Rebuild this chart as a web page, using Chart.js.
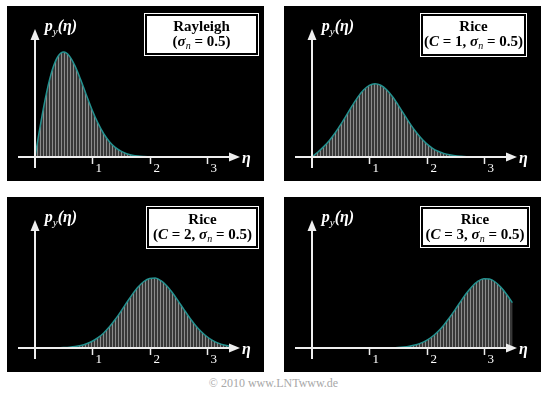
<!DOCTYPE html>
<html>
<head>
<meta charset="utf-8">
<script src="https://cdn.jsdelivr.net/npm/chart.js@4.4.1/dist/chart.umd.min.js"></script>
<style>
  html, body { margin: 0; padding: 0; background: #fff; }
  body { width: 547px; height: 396px; position: relative; overflow: hidden; }
  canvas { position: absolute; }
  #copy { position: absolute; left: 0; top: 376px; width: 547px; text-align: center;
          font: 12px "Liberation Serif", serif; color: #a8a8a8; }
</style>
</head>
<body>
<canvas id="c0" width="257" height="175" style="left:7px;top:6px"></canvas>
<canvas id="c1" width="257" height="175" style="left:284px;top:6px"></canvas>
<canvas id="c2" width="257" height="175" style="left:7px;top:197px"></canvas>
<canvas id="c3" width="257" height="175" style="left:284px;top:197px"></canvas>
<div id="copy">© 2010 www.LNTwww.de</div>

<script>
// η grid (0 ... 3.6, step 0.1)
const eta = [0.0, 0.1, 0.2, 0.3, 0.4, 0.5, 0.6, 0.7, 0.8, 0.9,
             1.0, 1.1, 1.2, 1.3, 1.4, 1.5, 1.6, 1.7, 1.8, 1.9,
             2.0, 2.1, 2.2, 2.3, 2.4, 2.5, 2.6, 2.7, 2.8, 2.9,
             3.0, 3.1, 3.2, 3.3, 3.4, 3.5, 3.6];

// p_y(η)
const rayleigh = [0, 0.392, 0.738, 1.002, 1.162, 1.213, 1.168, 1.051, 0.890, 0.712,
                  0.541, 0.391, 0.269, 0.177, 0.111, 0.067, 0.038, 0.021, 0.011, 0.006, 0.003];
const riceC1 = [0, 0.055, 0.117, 0.189, 0.275, 0.374, 0.482, 0.591, 0.692, 0.774,
                0.828, 0.847, 0.830, 0.780, 0.702, 0.606, 0.502, 0.398, 0.303, 0.222,
                0.155, 0.104, 0.067, 0.042, 0.025, 0.014, 0.008, 0.004, 0.002];
const riceC2 = [0, 0.0002, 0.0004, 0.001, 0.002, 0.005, 0.009, 0.016, 0.029, 0.049,
                0.078, 0.119, 0.174, 0.245, 0.329, 0.424, 0.524, 0.620, 0.705, 0.769,
                0.804, 0.808, 0.778, 0.720, 0.639, 0.545, 0.446, 0.350, 0.264, 0.191,
                0.133, 0.089, 0.057, 0.035, 0.021, 0.012];
const riceC3 = [0, 0, 0, 0, 0, 0, 0, 0, 0, 0,
                0.0002, 0.0004, 0.001, 0.002, 0.003, 0.006, 0.012, 0.021, 0.035, 0.057,
                0.089, 0.133, 0.191, 0.264, 0.349, 0.443, 0.542, 0.635, 0.714, 0.772,
                0.800, 0.797, 0.763, 0.701, 0.619, 0.524];

const xTicks = [1, 2, 3];

const titles = ["Rayleigh", "Rice", "Rice", "Rice"];
const cValues = [null, "1", "2", "3"];
const series = [rayleigh, riceC1, riceC2, riceC3];

// box rectangles per panel (canvas-relative): x, y, w, h
const boxes = [[137, 7, 115, 43], [136, 7, 107, 44], [139, 9, 113, 43], [136, 9, 110, 42]];

const serif = '"Liberation Serif", "Times New Roman", serif';

function stripePattern() {
    const c = document.createElement("canvas");
    c.width = 3; c.height = 4;
    const g = c.getContext("2d");
    g.fillStyle = "#383838"; g.fillRect(0, 0, 3, 4);
    g.fillStyle = "#8c8c8c"; g.fillRect(0, 0, 1, 4);
    return g.createPattern(c, "repeat");
}

function drawRuns(ctx, runs, cx, base) {
    let total = 0;
    runs.forEach(r => { ctx.font = r[1]; total += ctx.measureText(r[0]).width; });
    let xx = cx - total / 2;
    ctx.textAlign = "left";
    runs.forEach(r => {
        ctx.font = r[1];
        ctx.fillText(r[0], xx, base + (r[2] || 0));
        xx += ctx.measureText(r[0]).width;
    });
}

const panelPlugin = {
    id: "panel",
    beforeDraw(chart) {
        const ctx = chart.ctx;
        ctx.save();
        ctx.fillStyle = "#000";
        ctx.fillRect(0, 0, chart.width, chart.height);
        ctx.restore();
    },
    afterDatasetsDraw(chart, args, opts) {
        const { ctx, scales: { x, y } } = chart;
        const x0 = x.getPixelForValue(0), y0 = y.getPixelForValue(0);
        const xEnd = x.getPixelForValue(x.max), yTop = y.getPixelForValue(y.max);
        ctx.save();
        ctx.strokeStyle = "#eeeeee";
        ctx.fillStyle = "#eeeeee";
        ctx.lineWidth = 2;
        // x axis
        ctx.beginPath();
        ctx.moveTo(x0 - 17, y0); ctx.lineTo(xEnd - 8, y0); ctx.stroke();
        ctx.beginPath();
        ctx.moveTo(xEnd, y0); ctx.lineTo(xEnd - 11, y0 - 4.5); ctx.lineTo(xEnd - 11, y0 + 4.5);
        ctx.closePath(); ctx.fill();
        // y axis
        ctx.beginPath();
        ctx.moveTo(x0, y0 + 11); ctx.lineTo(x0, yTop + 8); ctx.stroke();
        ctx.beginPath();
        ctx.moveTo(x0, yTop); ctx.lineTo(x0 - 4.5, yTop + 11); ctx.lineTo(x0 + 4.5, yTop + 11);
        ctx.closePath(); ctx.fill();
        // ticks
        ctx.fillStyle = "#fff";
        xTicks.forEach(t => {
            const px = Math.round(x.getPixelForValue(t)) + 0.5;
            ctx.lineWidth = 1.5;
            ctx.beginPath(); ctx.moveTo(px, y0); ctx.lineTo(px, y0 + 7); ctx.stroke();
            ctx.font = "13px " + serif;
            ctx.textAlign = "left";
            ctx.fillText(String(t), px + 3, y0 + 15);
        });
        // axis labels
        ctx.font = "bold italic 16px " + serif;
        ctx.fillText("η", xEnd + 2, y0 + 6);
        drawRuns(ctx, [["p", "bold italic 16px " + serif],
                       ["y", "italic 11px " + serif, 4],
                       ["(η)", "bold italic 16px " + serif]], x0 + 26, yTop + 2);
        // legend box
        const [bx, by, bw, bh] = opts.box;
        ctx.fillStyle = "#fff";
        ctx.fillRect(bx, by, bw, bh);
        ctx.strokeStyle = "#000";
        ctx.lineWidth = 2;
        ctx.strokeRect(bx + 2, by + 2, bw - 4, bh - 4);
        ctx.fillStyle = "#000";
        const cx = bx + bw / 2;
        drawRuns(ctx, [[opts.title, "bold 15px " + serif]], cx, by + 18);
        const line2 = [["(", "bold 15px " + serif]];
        if (opts.c !== null) {
            line2.push(["C", "bold italic 15px " + serif]);
            line2.push([" = " + opts.c + ", ", "bold 15px " + serif]);
        }
        line2.push(["σ", "bold italic 15px " + serif]);
        line2.push(["n", "italic 10px " + serif, 3]);
        line2.push([" = 0.5)", "bold 15px " + serif]);
        drawRuns(ctx, line2, cx, by + 33);
        ctx.restore();
    }
};

const fillPattern = stripePattern();

series.forEach((vals, i) => {
    const pts = vals.map((v, k) => ({ x: eta[k], y: v }));
    new Chart(document.getElementById("c" + i), {
        type: "line",
        plugins: [panelPlugin],
        data: {
            datasets: [{
                data: pts,
                borderColor: "#23918f",
                borderWidth: 1.5,
                backgroundColor: fillPattern,
                fill: "origin",
                pointRadius: 0,
                cubicInterpolationMode: "monotone"
            }]
        },
        options: {
            responsive: false,
            animation: false,
            events: [],
            layout: { padding: { left: 28, right: 24, top: 23, bottom: 24 } },
            plugins: {
                legend: { display: false },
                tooltip: { enabled: false },
                panel: { box: boxes[i], title: titles[i], c: cValues[i] }
            },
            scales: {
                x: { type: "linear", min: 0, max: 3.58, display: false },
                y: { min: 0, max: 1.48, display: false }
            }
        }
    });
});
</script>
</body>
</html>
